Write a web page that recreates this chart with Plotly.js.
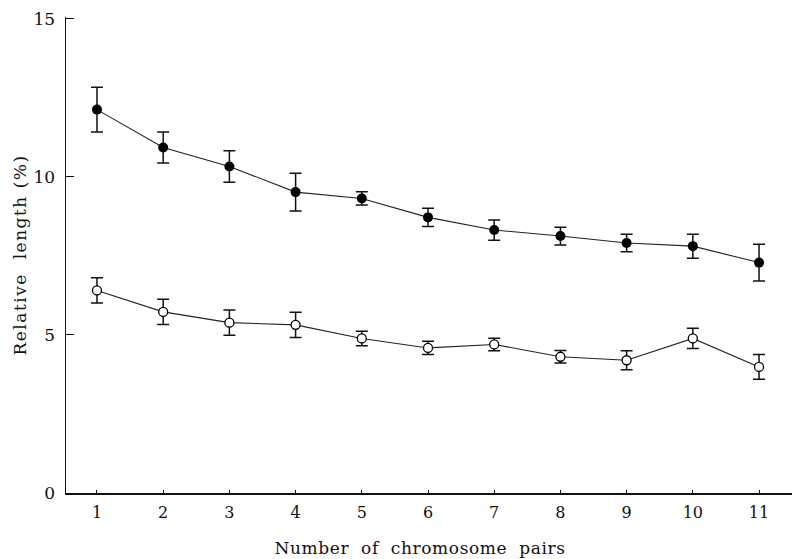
<!DOCTYPE html>
<html>
<head>
<meta charset="utf-8">
<script src="https://cdn.plot.ly/plotly-3.0.1.min.js"></script>
<style>html,body{margin:0;padding:0;background:#fff;}</style>
</head>
<body>
<div id="chart" style="width:797px;height:559px;"></div>
<script>
const pairs = [1, 2, 3, 4, 5, 6, 7, 8, 9, 10, 11];
const upperMean = [12.13, 10.93, 10.33, 9.52, 9.32, 8.72, 8.32, 8.13, 7.91, 7.81, 7.29];
const upperErr  = [0.71, 0.49, 0.50, 0.60, 0.21, 0.29, 0.32, 0.28, 0.28, 0.38, 0.58];
const lowerMean = [6.41, 5.73, 5.39, 5.32, 4.89, 4.59, 4.70, 4.31, 4.20, 4.89, 3.99];
const lowerErr  = [0.40, 0.40, 0.40, 0.40, 0.23, 0.21, 0.20, 0.20, 0.30, 0.32, 0.39];
const yTicks = [0, 5, 10, 15];

const serif = "DejaVu Serif, Liberation Serif, serif";

const traces = [
  {
    x: pairs, y: upperMean, type: 'scatter', mode: 'lines+markers',
    line: {color: '#222', width: 1.1},
    marker: {symbol: 'circle', size: 10, color: '#000'},
    error_y: {type: 'data', array: upperErr, visible: true, color: '#111', thickness: 1.5, width: 6},
    showlegend: false, hoverinfo: 'none'
  },
  {
    x: pairs, y: lowerMean, type: 'scatter', mode: 'lines+markers',
    line: {color: '#222', width: 1.1},
    marker: {symbol: 'circle', size: 9, color: '#fff', line: {color: '#000', width: 1.3}},
    error_y: {type: 'data', array: lowerErr, visible: true, color: '#111', thickness: 1.5, width: 6},
    showlegend: false, hoverinfo: 'none'
  }
];

const layout = {
  width: 797, height: 559,
  margin: {l: 66, r: 5, t: 17, b: 66},
  paper_bgcolor: '#fff', plot_bgcolor: '#fff',
  font: {family: serif, color: '#111', size: 16},
  xaxis: {
    range: [0.532, 11.498],
    tickvals: pairs, ticktext: pairs.map(String),
    showgrid: false, zeroline: false,
    showline: true, linecolor: '#111', linewidth: 2,
    ticks: 'inside', ticklen: 3, tickcolor: '#111',
    tickfont: {family: serif, size: 16, color: '#111'},
    ticklabelstandoff: 4,
    title: {text: 'Number  of  chromosome  pairs', font: {family: serif, size: 17, color: '#111'}, standoff: 21}
  },
  yaxis: {
    range: [0, 15.06],
    tickvals: yTicks, ticktext: yTicks.map(String),
    showgrid: false, zeroline: false,
    showline: true, linecolor: '#111', linewidth: 1.5,
    ticks: 'inside', ticklen: 8, tickcolor: '#111',
    tickfont: {family: serif, size: 17, color: '#111'},
    ticklabelstandoff: 6,
    title: {text: 'Relative  length (%)', font: {family: serif, size: 17, color: '#111'}, standoff: 2}
  }
};

Plotly.newPlot('chart', traces, layout, {displayModeBar: false, staticPlot: true}).then(function () {
  const xt = document.querySelector('.xtitle');
  if (xt) {
    xt.style.letterSpacing = '0.6px';
    xt.setAttribute('transform', 'translate(-9,0)');
  }
  const yt = document.querySelector('.ytitle');
  if (yt) yt.style.letterSpacing = '1.5px';
});
</script>
</body>
</html>
